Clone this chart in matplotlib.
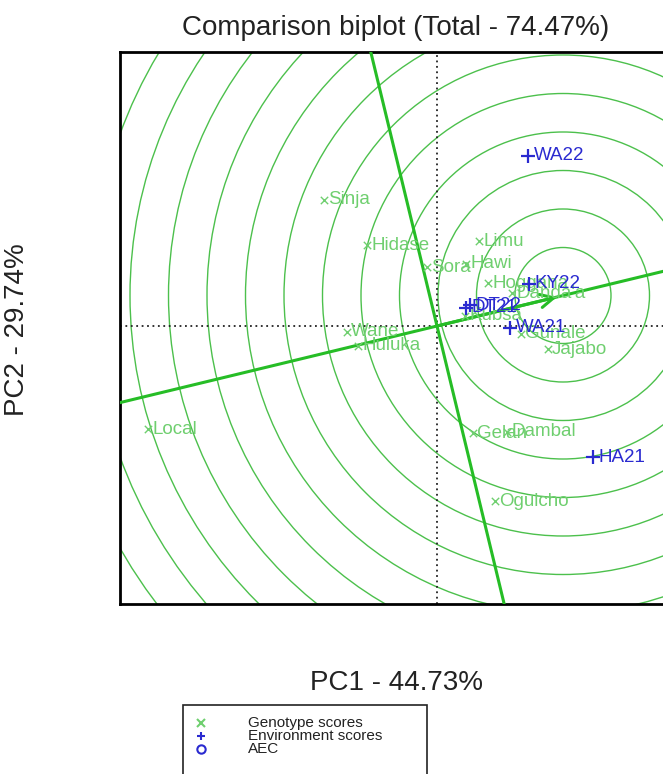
import matplotlib.pyplot as plt
from matplotlib.patches import Circle, Rectangle
from matplotlib.lines import Line2D

plt.rcParams['font.family'] = ['Liberation Sans', 'DejaVu Sans']

# genotype scores (PC1, PC2)
geno_names = ['Sinja', 'Hidase', 'Sora', 'Hawi', 'Limu', 'Hoggana', 'Danda\'a',
              'Kubsa', 'Wane', 'Huluka', 'Local', 'Gelan', 'Dambal', 'Ogulcho',
              'Jajabo', 'Gunale']
geno_pc1 = [-2.26, -1.40, -0.20, 0.58, 0.84, 1.02, 1.50,
            0.56, -1.80, -1.58, -5.78, 0.72, 1.40, 1.16,
            2.22, 1.68]
geno_pc2 = [2.52, 1.62, 1.18, 1.24, 1.70, 0.86, 0.66,
            0.20, -0.12, -0.40, -2.06, -2.14, -2.12, -3.50,
            -0.46, -0.16]

# environment scores (PC1, PC2)
env_names = ['WA22', 'KY22', 'DT21', 'DT22', 'WA21', 'HA21']
env_pc1 = [1.82, 1.84, 0.58, 0.66, 1.46, 3.12]
env_pc2 = [3.40, 0.84, 0.36, 0.42, -0.04, -2.62]

# average environment coordinate and concentric rings
aec_end = (2.40, 0.58)
ring_centre = (2.52, 0.61)
ring_radii = [0.96, 1.73, 2.50, 3.27, 4.04, 4.81, 5.58, 6.35, 7.12,
              7.89, 8.66, 9.43, 10.20, 10.97]

geno_col = '#6fcf6f'
ring_col = '#4cc04c'
line_col = '#26bd26'
env_col = '#2a2ad0'

fig = plt.figure(figsize=(6.63, 7.74), dpi=100)
ax = fig.add_axes([120 / 663, 170 / 774, 552 / 663, 552 / 774])
ax.set_xlim(-6.34, 4.70)
ax.set_ylim(-5.56, 5.48)
ax.set_xticks([])
ax.set_yticks([])
for sp in ax.spines.values():
    sp.set_linewidth(2.0)

# rings
for r in ring_radii:
    ax.add_patch(Circle(ring_centre, r, fill=False, ec=ring_col, lw=1.0, zorder=1))

# dotted axes through origin
ax.axhline(0, color='#222222', ls=(0, (1, 2)), lw=1.3, zorder=2)
ax.axvline(0, color='#222222', ls=(0, (1, 2)), lw=1.3, zorder=2)

# AEC abscissa and ordinate
slope = aec_end[1] / aec_end[0]
ax.axline((0, 0), slope=slope, color=line_col, lw=2.2, zorder=3)
ax.axline((0, 0), slope=-1 / slope, color=line_col, lw=2.2, zorder=3)
ax.annotate('', xy=aec_end, xytext=(0, 0),
            arrowprops=dict(arrowstyle='->', color=line_col, lw=2.2,
                            mutation_scale=24, shrinkA=0, shrinkB=0), zorder=3)

# genotypes
ax.scatter(geno_pc1, geno_pc2, marker='x', s=28, c=geno_col, lw=1.0, zorder=4)
for name, x, y in zip(geno_names, geno_pc1, geno_pc2):
    ax.annotate(name, (x, y), xytext=(3, 0), textcoords='offset points',
                ha='left', va='center', fontsize=13.5, color=geno_col, zorder=4)

# environments
ax.scatter(env_pc1, env_pc2, marker='+', s=90, c=env_col, lw=1.6, zorder=5)
for name, x, y in zip(env_names, env_pc1, env_pc2):
    ax.annotate(name, (x, y), xytext=(4, 0), textcoords='offset points',
                ha='left', va='center', fontsize=13.5, color=env_col, zorder=5)

# titles
fig.text(396 / 663, 1 - 28 / 774, 'Comparison biplot (Total - 74.47%)',
         ha='center', va='center', fontsize=20, color='#222222')
fig.text(396 / 663, 1 - 683 / 774, 'PC1 - 44.73%',
         ha='center', va='center', fontsize=20, color='#222222')
fig.text(17 / 663, 1 - 330 / 774, 'PC2 - 29.74%', rotation=90,
         ha='center', va='center', fontsize=20, color='#222222')

# legend box (runs off the bottom edge like the original)
fig.add_artist(Rectangle((183 / 663, -8 / 774), 244 / 663, 77 / 774,
                         transform=fig.transFigure, fill=False, ec='#222222', lw=1.2))
leg_items = [('x', geno_col, 'Genotype scores', 723),
             ('+', env_col, 'Environment scores', 736),
             ('o', env_col, 'AEC', 749)]
for mk, col, lab, ypx in leg_items:
    y = 1 - ypx / 774
    fig.add_artist(Line2D([201 / 663], [y], marker=mk, color=col, ls='none',
                          ms=6, mfc='none', mew=1.5, transform=fig.transFigure))
    fig.text(248 / 663, y, lab, ha='left', va='center', fontsize=11, color='#222222')

fig.savefig('out.png', dpi=100)
